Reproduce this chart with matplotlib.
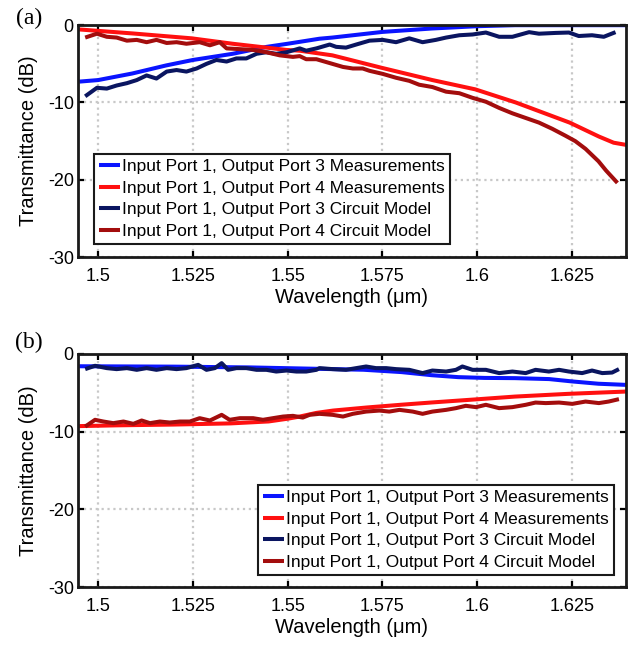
import numpy as np
import matplotlib
matplotlib.use("Agg")
import matplotlib.pyplot as plt

plt.rcParams['font.family'] = ['Liberation Sans', 'DejaVu Sans']
plt.rcParams['axes.unicode_minus'] = False

# ---------------- panel (a) ----------------
a_meas3_wl = [1.495, 1.5, 1.509, 1.518, 1.525, 1.5355, 1.5445, 1.55, 1.5584, 1.5618,
              1.575, 1.588, 1.6, 1.61, 1.625, 1.64]
a_meas3_db = [-7.3, -7.1, -6.25, -5.2, -4.5, -3.7, -2.8, -2.4, -1.75, -1.6,
              -0.87, -0.43, -0.13, 0.0, 0.0, 0.0]

a_meas4_wl = [1.495, 1.5092, 1.5247, 1.5355, 1.5497, 1.5532, 1.5618, 1.5747, 1.5882,
              1.5995, 1.6102, 1.6244, 1.6321, 1.636, 1.6395]
a_meas4_db = [-0.55, -1.07, -1.7, -2.4, -3.2, -3.3, -3.9, -5.5, -7.1,
              -8.3, -10.0, -12.6, -14.4, -15.2, -15.5]

a_model3_wl = [1.4966, 1.4997, 1.5023, 1.5049, 1.5076, 1.5102, 1.5128, 1.5154, 1.5181,
               1.5207, 1.5233, 1.526, 1.5286, 1.5312, 1.5339, 1.5365, 1.5391, 1.5418,
               1.5444, 1.547, 1.5497, 1.5532, 1.5549, 1.5576, 1.5611, 1.5628, 1.5654,
               1.5681, 1.5716, 1.5751, 1.5786, 1.5821, 1.5856, 1.5891, 1.5918, 1.5953,
               1.5988, 1.6023, 1.6058, 1.6093, 1.6137, 1.6163, 1.6207, 1.6242, 1.6268,
               1.6303, 1.6334, 1.6365]
a_model3_db = [-9.2, -8.1, -8.2, -7.8, -7.5, -7.1, -6.5, -6.9, -6.0,
               -5.8, -6.0, -5.6, -5.0, -4.5, -4.7, -4.3, -4.3, -3.7,
               -3.5, -3.7, -3.5, -3.0, -3.3, -3.0, -2.5, -2.8, -2.9,
               -2.5, -2.0, -1.9, -2.2, -1.7, -2.2, -1.9, -1.6, -1.3,
               -1.2, -0.95, -1.5, -1.5, -0.9, -1.1, -1.0, -0.95, -1.4,
               -1.3, -1.5, -0.9]

a_model4_wl = [1.4966, 1.4997, 1.5023, 1.5049, 1.5076, 1.5102, 1.5128, 1.5154, 1.5181,
               1.5207, 1.5233, 1.5268, 1.5295, 1.5321, 1.5339, 1.5374, 1.5409, 1.5444,
               1.5479, 1.5514, 1.5532, 1.5549, 1.5576, 1.5611, 1.5646, 1.5672, 1.5698,
               1.5716, 1.5751, 1.5786, 1.5821, 1.5847, 1.5882, 1.5918, 1.5953, 1.5988,
               1.6023, 1.6058, 1.6093, 1.6128, 1.6163, 1.6198, 1.6233, 1.6259, 1.6286,
               1.6303, 1.632, 1.634, 1.6355, 1.637]
a_model4_db = [-1.6, -1.1, -1.5, -1.6, -2.0, -1.9, -2.2, -1.9, -2.3,
               -2.2, -2.4, -2.2, -2.6, -2.2, -3.0, -3.1, -3.2, -3.5,
               -3.9, -4.1, -4.0, -4.4, -4.4, -4.9, -5.4, -5.6, -5.6,
               -5.9, -6.3, -6.8, -7.2, -7.7, -8.0, -8.6, -8.8, -9.4,
               -9.9, -10.7, -11.4, -12.0, -12.6, -13.4, -14.3, -15.0, -16.0,
               -16.8, -17.6, -18.8, -19.6, -20.4]

# ---------------- panel (b) ----------------
b_meas3_wl = [1.495, 1.52, 1.54, 1.555, 1.57, 1.58, 1.588, 1.595, 1.602, 1.61,
              1.619, 1.625, 1.632, 1.6395]
b_meas3_db = [-1.6, -1.65, -1.75, -1.9, -2.05, -2.35, -2.75, -3.0, -3.1, -3.13,
              -3.25, -3.55, -3.85, -4.0]

b_meas4_wl = [1.495, 1.505, 1.52, 1.535, 1.545, 1.55, 1.5532, 1.5576, 1.562, 1.571,
              1.58, 1.588, 1.6, 1.61, 1.624, 1.6395]
b_meas4_db = [-9.3, -9.2, -9.1, -8.95, -8.7, -8.35, -8.07, -7.6, -7.3, -6.9,
              -6.55, -6.26, -5.85, -5.5, -5.15, -4.85]

b_model3_wl = [1.4966, 1.4992, 1.5023, 1.5049, 1.5076, 1.5102, 1.5128, 1.5154, 1.5181,
               1.5207, 1.5233, 1.5264, 1.5286, 1.5308, 1.5326, 1.5343, 1.5365, 1.5391,
               1.5418, 1.5444, 1.547, 1.5497, 1.5523, 1.5549, 1.5576, 1.5584, 1.5619,
               1.5654, 1.5681, 1.5707, 1.5733, 1.576, 1.5786, 1.5821, 1.5856, 1.5882,
               1.5918, 1.5944, 1.5961, 1.5988, 1.6023, 1.6058, 1.6093, 1.6128, 1.6154,
               1.6189, 1.6216, 1.6242, 1.6277, 1.6303, 1.633, 1.6356, 1.6374]
b_model3_db = [-1.97, -1.54, -1.84, -1.97, -1.84, -2.06, -1.84, -2.06, -1.84,
               -1.97, -1.84, -1.42, -2.06, -1.84, -1.2, -2.06, -1.84, -1.84,
               -2.06, -2.06, -2.28, -2.15, -2.28, -2.28, -2.06, -1.84, -1.97,
               -2.06, -1.84, -1.63, -1.84, -1.84, -1.97, -2.06, -2.48, -2.15,
               -2.28, -2.06, -1.63, -2.06, -2.06, -2.48, -2.28, -2.48, -2.06,
               -2.28, -2.06, -2.28, -2.48, -2.15, -2.48, -2.41, -1.97]

b_model4_wl = [1.4966, 1.4992, 1.5014, 1.504, 1.5067, 1.5093, 1.5115, 1.5137, 1.5163,
               1.5189, 1.5216, 1.5242, 1.5268, 1.5295, 1.5326, 1.5347, 1.5374, 1.5409,
               1.5435, 1.5461, 1.5488, 1.5514, 1.554, 1.5558, 1.5584, 1.5619, 1.5646,
               1.5672, 1.5707, 1.5742, 1.5768, 1.5795, 1.583, 1.5856, 1.5882, 1.5918,
               1.5944, 1.597, 1.5997, 1.6023, 1.6058, 1.6093, 1.6128, 1.6154, 1.6181,
               1.6216, 1.6251, 1.6286, 1.6321, 1.6347, 1.6374]
b_model4_db = [-9.36, -8.49, -8.71, -8.92, -8.71, -9.01, -8.58, -8.92, -8.71,
               -8.84, -8.71, -8.71, -8.28, -8.58, -7.85, -8.49, -8.28, -8.28,
               -8.49, -8.28, -8.07, -7.98, -8.2, -7.85, -7.72, -7.85, -8.07,
               -7.72, -7.43, -7.3, -7.43, -7.21, -7.43, -7.72, -7.43, -7.21,
               -6.99, -6.69, -6.86, -6.56, -6.99, -6.86, -6.56, -6.27, -6.34,
               -6.27, -6.44, -6.14, -6.34, -6.14, -5.83]

labels = ["Input Port 1, Output Port 3 Measurements",
          "Input Port 1, Output Port 4 Measurements",
          "Input Port 1, Output Port 3 Circuit Model",
          "Input Port 1, Output Port 4 Circuit Model"]
colors = ['#0a14ff', '#ff1010', '#0a1560', '#a30d0d']

xticks = [1.5, 1.525, 1.55, 1.575, 1.6, 1.625]
xticklabels = ['1.5', '1.525', '1.55', '1.575', '1.6', '1.625']
yticks = [-30, -20, -10, 0]

fig = plt.figure(figsize=(6.34, 6.46), dpi=100)
ax_a = fig.add_axes([0.123, 0.602, 0.864, 0.359])
ax_b = fig.add_axes([0.123, 0.0913, 0.864, 0.361])

panels = [
    (ax_a, [(a_meas3_wl, a_meas3_db), (a_meas4_wl, a_meas4_db),
            (a_model3_wl, a_model3_db), (a_model4_wl, a_model4_db)]),
    (ax_b, [(b_meas3_wl, b_meas3_db), (b_meas4_wl, b_meas4_db),
            (b_model3_wl, b_model3_db), (b_model4_wl, b_model4_db)]),
]

for ax, series in panels:
    for (wl, db), lab, c in zip(series, labels, colors):
        ax.plot(wl, db, color=c, lw=2.9, label=lab, solid_capstyle='butt')
    ax.set_xlim(1.4947, 1.6392)
    ax.set_ylim(-30, 0)
    ax.set_xticks(xticks)
    ax.set_xticklabels(xticklabels)
    ax.set_yticks(yticks)
    ax.grid(True, color='#c8c8c8', linestyle=':', linewidth=1.6)
    ax.set_axisbelow(True)
    ax.tick_params(direction='in', length=4, width=1.6, top=True, right=True,
                   labelsize=13, colors='black')
    ax.tick_params(axis='x', pad=8)
    ax.tick_params(axis='y', pad=3)
    for s in ax.spines.values():
        s.set_linewidth(2.0)
        s.set_color('#1a1a1a')
    ax.set_xlabel("Wavelength (μm)", fontsize=14.5, labelpad=2)
    ax.set_ylabel("Transmittance (dB)", fontsize=14.5, labelpad=7)

leg_kw = dict(fontsize=12.5, handlelength=1.2, handletextpad=0.1, labelspacing=0.36,
              borderpad=0.3, borderaxespad=0, fancybox=False, framealpha=1,
              edgecolor='#1a1a1a')
leg_a = ax_a.legend(loc='upper left', bbox_to_anchor=(0.029, 0.444), **leg_kw)
leg_b = ax_b.legend(loc='lower right', bbox_to_anchor=(0.978, 0.052), **leg_kw)
for leg in (leg_a, leg_b):
    leg.get_frame().set_linewidth(1.5)

fig.text(29 / 634, 1 - 18 / 646, "(a)", fontsize=17, family='Liberation Serif',
         ha='center', va='center')
fig.text(29 / 634, 1 - 342 / 646, "(b)", fontsize=17, family='Liberation Serif',
         ha='center', va='center')

fig.savefig("out.png", dpi=100)
